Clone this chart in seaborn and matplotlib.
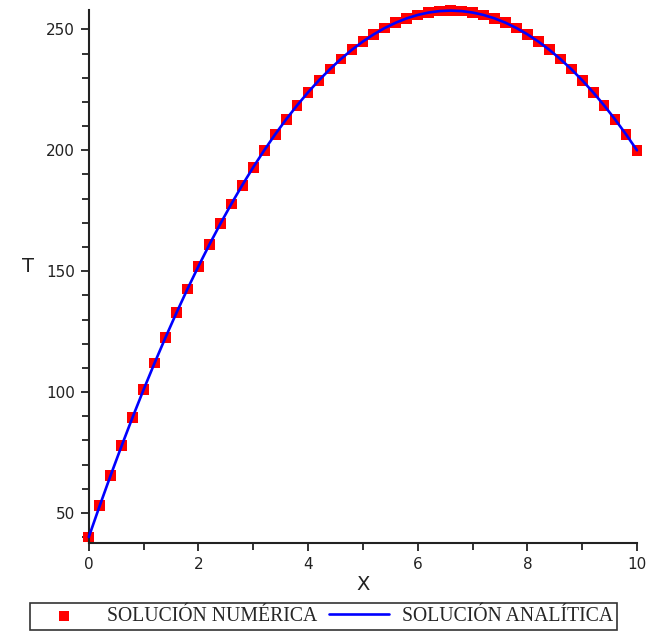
import matplotlib
matplotlib.use("Agg")
import matplotlib.pyplot as plt
from matplotlib.ticker import MultipleLocator
import seaborn as sns
import pandas as pd

# data (x step 0.2)
x_vals = [round(0.2 * k, 1) for k in range(51)]
t_num = [40.0, 53.0, 65.6, 77.8, 89.6, 101.0, 112.0, 122.6, 132.8, 142.6,
         152.0, 161.0, 169.6, 177.8, 185.6, 193.0, 200.0, 206.6, 212.8, 218.6,
         224.0, 229.0, 233.6, 237.8, 241.6, 245.0, 248.0, 250.6, 252.8, 254.6,
         256.0, 257.0, 257.6, 257.8, 257.6, 257.0, 256.0, 254.6, 252.8, 250.6,
         248.0, 245.0, 241.6, 237.8, 233.6, 229.0, 224.0, 218.6, 212.8, 206.6,
         200.0]
t_ana = [40.0, 53.0, 65.6, 77.8, 89.6, 101.0, 112.0, 122.6, 132.8, 142.6,
         152.0, 161.0, 169.6, 177.8, 185.6, 193.0, 200.0, 206.6, 212.8, 218.6,
         224.0, 229.0, 233.6, 237.8, 241.6, 245.0, 248.0, 250.6, 252.8, 254.6,
         256.0, 257.0, 257.6, 257.8, 257.6, 257.0, 256.0, 254.6, 252.8, 250.6,
         248.0, 245.0, 241.6, 237.8, 233.6, 229.0, 224.0, 218.6, 212.8, 206.6,
         200.0]

df = pd.DataFrame({'X': x_vals, 'num': t_num, 'ana': t_ana})

sns.set_style("ticks")
fig = plt.figure(figsize=(6.48, 6.32), dpi=100)
ax = fig.add_axes([0.137, 0.141, 0.846, 0.843])

sns.scatterplot(data=df, x='X', y='num', ax=ax, marker='s', s=60, color='#ff0000',
                edgecolor='none', label='SOLUCIÓN NUMÉRICA', zorder=2, clip_on=False)
sns.lineplot(data=df, x='X', y='ana', ax=ax, color='#0000ff', lw=1.9,
             label='SOLUCIÓN ANALÍTICA', zorder=3, clip_on=False)

ax.set_xlim(0, 10)
ax.set_ylim(37.6, 258)
ax.xaxis.set_major_locator(MultipleLocator(2))
ax.xaxis.set_minor_locator(MultipleLocator(1))
ax.yaxis.set_major_locator(MultipleLocator(50))
ax.yaxis.set_minor_locator(MultipleLocator(10))
ax.tick_params(which='major', length=6, width=1.3, labelsize=11, colors='#222222', pad=4)
ax.tick_params(which='minor', length=5, width=1.3, colors='#222222')
for s in ['left', 'bottom']:
    ax.spines[s].set_linewidth(1.5)
    ax.spines[s].set_color('#222222')
sns.despine(ax=ax)

ax.set_xlabel('X', fontsize=14, color='#222222', labelpad=2)
ax.set_ylabel('T', fontsize=14, color='#222222', rotation=0, labelpad=14)
ax.yaxis.set_label_coords(-0.11, 0.5)

leg = ax.legend(loc='center', bbox_to_anchor=(0.429, -0.138), ncol=2, frameon=True,
                fancybox=False, edgecolor='black', borderpad=0.2, handlelength=3.0,
                columnspacing=0.6, handletextpad=0.7, markerscale=0.9,
                prop={'family': 'Liberation Serif', 'size': 14.2})
leg.get_frame().set_linewidth(1.2)

fig.savefig('out.png', dpi=100)
